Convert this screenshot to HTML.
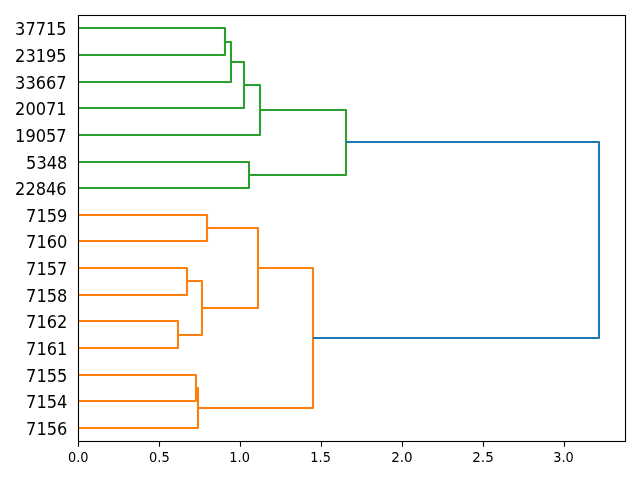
<!DOCTYPE html>
<html><head><meta charset="utf-8"><title>dendrogram</title>
<style>
html,body{margin:0;padding:0;background:#fff;overflow:hidden}
svg{display:block}
text{font-family:"DejaVu Sans","Liberation Sans",sans-serif;fill:#000}
.xt text{font-size:13.89px;text-anchor:middle}
.yt text{font-size:16.67px;text-anchor:end}
</style></head><body>
<svg width="640" height="480" viewBox="0 0 640 480">
<rect width="640" height="480" fill="#fff"/>
<g fill="none" stroke-width="2.08" stroke-linejoin="round" stroke-linecap="butt">
<path d="M78 215 L207 215 L207 241 L78 241" stroke="#ff7f0e"/>
<path d="M78 268 L187 268 L187 295 L78 295" stroke="#ff7f0e"/>
<path d="M78 321 L178 321 L178 348 L78 348" stroke="#ff7f0e"/>
<path d="M187 281 L202 281 L202 335 L178 335" stroke="#ff7f0e"/>
<path d="M207 228 L258 228 L258 308 L202 308" stroke="#ff7f0e"/>
<path d="M78 375 L196 375 L196 401 L78 401" stroke="#ff7f0e"/>
<path d="M196 388 L198 388 L198 428 L78 428" stroke="#ff7f0e"/>
<path d="M258 268 L313 268 L313 408 L198 408" stroke="#ff7f0e"/>
<path d="M78 28 L225 28 L225 55 L78 55" stroke="#2ca02c"/>
<path d="M225 42 L231 42 L231 82 L78 82" stroke="#2ca02c"/>
<path d="M231 62 L244 62 L244 108 L78 108" stroke="#2ca02c"/>
<path d="M244 85 L260 85 L260 135 L78 135" stroke="#2ca02c"/>
<path d="M78 162 L249 162 L249 188 L78 188" stroke="#2ca02c"/>
<path d="M260 110 L346 110 L346 175 L249 175" stroke="#2ca02c"/>
<path d="M346 142 L599 142 L599 338 L313 338" stroke="#1f77b4"/>
</g>
<g fill="none" stroke="#000" stroke-width="1.1"><path d="M78.5 441.5V446.7"/><path d="M159.5 441.5V446.7"/><path d="M240.5 441.5V446.7"/><path d="M321.5 441.5V446.7"/><path d="M402.5 441.5V446.7"/><path d="M483.5 441.5V446.7"/><path d="M564.5 441.5V446.7"/></g>
<rect x="78.5" y="15.5" width="547" height="426" fill="none" stroke="#000" stroke-width="1.1"/>
<g class="xt"><text transform="translate(78.3 462.0) scale(0.93 1.02)">0.0</text><text transform="translate(159.4 462.0) scale(0.94 1.02)">0.5</text><text transform="translate(239.6 462.0) scale(0.93 1.02)">1.0</text><text transform="translate(320.6 462.0) scale(0.93 1.02)">1.5</text><text transform="translate(401.9 462.0) scale(0.97 1.02)">2.0</text><text transform="translate(483.0 462.0) scale(0.97 1.02)">2.5</text><text transform="translate(563.5 462.0) scale(0.93 1.02)">3.0</text></g>
<g class="yt"><text transform="translate(66.7 35.0) scale(0.975 1.09)">37715</text><text transform="translate(66.7 62.0) scale(0.975 1.09)">23195</text><text transform="translate(66.7 89.0) scale(0.975 1.09)">33667</text><text transform="translate(66.7 115.0) scale(0.975 1.09)">20071</text><text transform="translate(66.7 142.0) scale(0.975 1.09)">19057</text><text transform="translate(67.4 169.0) scale(0.975 1.09)">5348</text><text transform="translate(66.7 195.0) scale(0.975 1.09)">22846</text><text transform="translate(67.4 222.0) scale(0.975 1.09)">7159</text><text transform="translate(67.4 248.0) scale(0.975 1.09)">7160</text><text transform="translate(67.4 275.0) scale(0.975 1.09)">7157</text><text transform="translate(67.4 302.0) scale(0.975 1.09)">7158</text><text transform="translate(67.4 328.0) scale(0.975 1.09)">7162</text><text transform="translate(67.4 355.0) scale(0.975 1.09)">7161</text><text transform="translate(67.4 382.0) scale(0.975 1.09)">7155</text><text transform="translate(67.4 408.0) scale(0.975 1.09)">7154</text><text transform="translate(67.4 435.0) scale(0.975 1.09)">7156</text></g>
</svg>
</body></html>
